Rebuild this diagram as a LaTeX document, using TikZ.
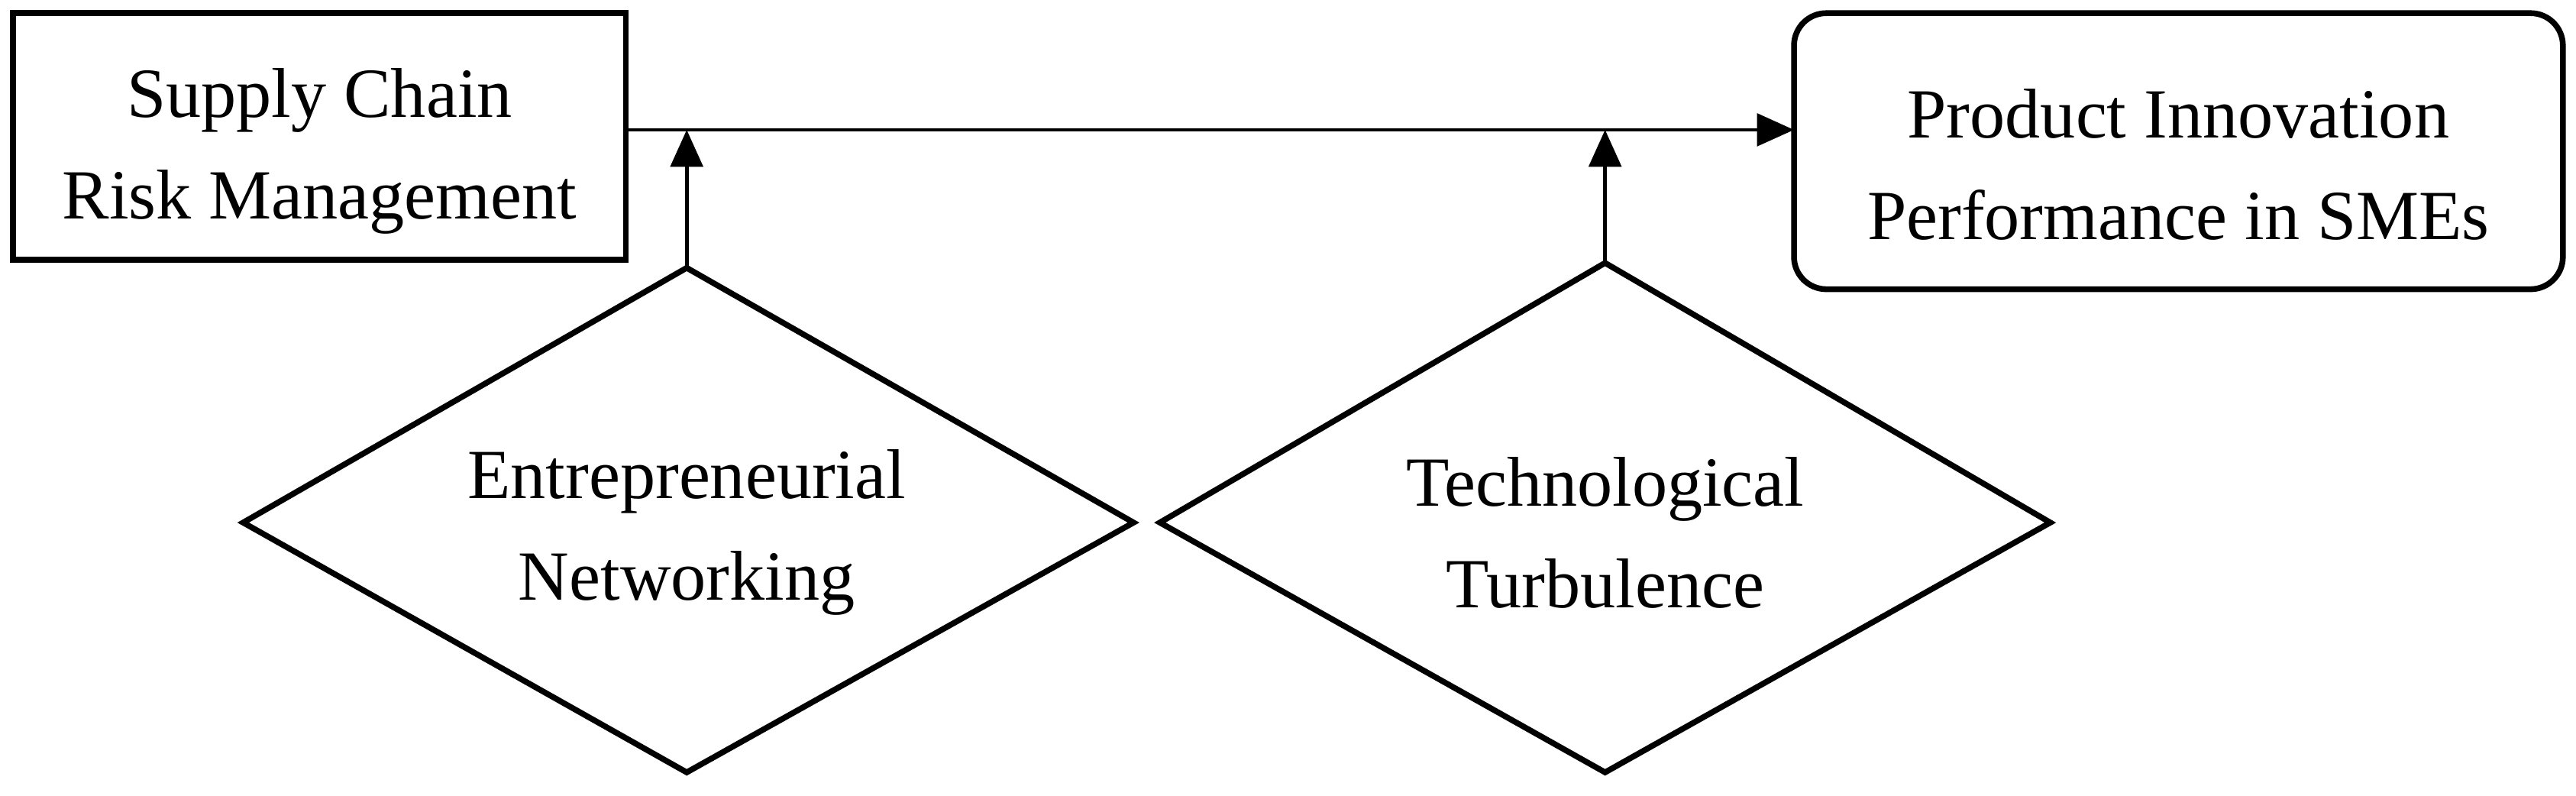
\documentclass[tikz,border=0pt]{standalone}
\usepackage{fontspec}
\setmainfont{Liberation Serif}
\usetikzlibrary{shapes.geometric,arrows.meta}
\begin{document}
\begin{tikzpicture}[x=0.05cm,y=-0.05cm,
  every node/.style={font=\fontsize{61}{88}\selectfont, align=center},
  lw/.style={line width=5pt},
  conn/.style={line width=3.2pt,-{Triangle[length=32pt,width=28pt]}}]
\useasboundingbox (0,0) rectangle (1568,484);
\draw[lw] (8,8) rectangle (381,158);
\node (scrm) at (194.5,92) {Supply Chain\\Risk Management};
\coordinate (scrmE) at (381,79);
\draw[lw,rounded corners=28pt] (1092,8) rectangle (1560,176);
\node (pip) at (1326,100) {Product Innovation\\Performance in SMEs};
\coordinate (pipW) at (1092,79);
\draw[conn] (scrmE) -- (pipW);
\draw[lw,line join=miter] (418,163) -- (690,318) -- (418,470) -- (148,318) -- cycle;
\node (en) at (418,324) {Entrepreneurial\\Networking};
\draw[lw,line join=miter] (977,160) -- (1248,318) -- (977,470) -- (706,318) -- cycle;
\node (tt) at (977,324) {Technological\\Turbulence};
\coordinate (enTop) at (418,163);
\coordinate (ttTop) at (977,160);
\coordinate (a1) at (418,79);
\coordinate (a2) at (977,79);
\draw[conn] (enTop) -- (a1);
\draw[conn] (ttTop) -- (a2);
\end{tikzpicture}
\end{document}
